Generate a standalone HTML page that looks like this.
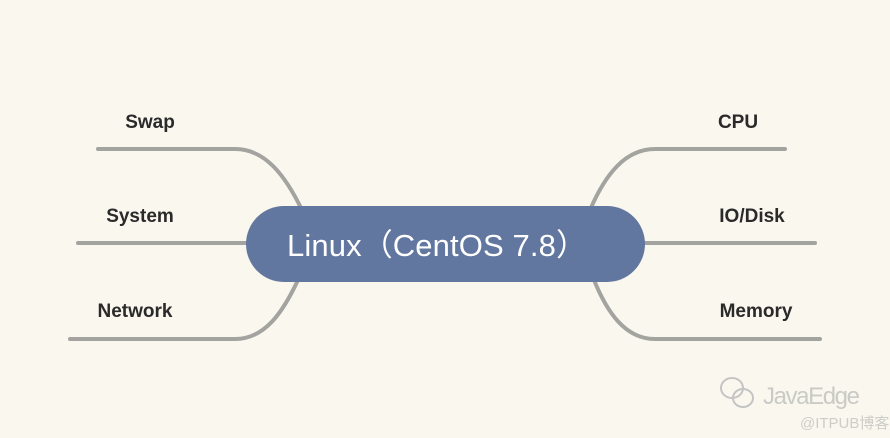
<!DOCTYPE html>
<html><head><meta charset="utf-8"><style>
body{margin:0;width:890px;height:438px;background:#f9f7ee;overflow:hidden;position:relative;font-family:"Liberation Sans","Noto Sans CJK SC",sans-serif}
.t{position:absolute;font-size:19px;color:#2a2a2a;transform:translate(-50%,-50%);white-space:nowrap;font-weight:bold}
</style></head><body>
<svg width="890" height="438" style="position:absolute;left:0;top:0">
<g fill="none" stroke="#a3a3a0" stroke-linecap="round">
<path d="M98 149 H235 C265 149 285 175 302 210" stroke-width="4"/>
<path d="M78 243 H250" stroke-width="4"/>
<path d="M70 339 H235 C265 339 283 312 298 280" stroke-width="4"/>
<path d="M785 149 H655 C625 149 605 175 590 210" stroke-width="4"/>
<path d="M815 243 H640" stroke-width="4"/>
<path d="M820 339 H655 C625 339 607 312 594 280" stroke-width="4"/>
</g>
<rect x="246" y="206" width="399" height="76" rx="38" fill="#62779f"/>
<text x="437" y="256" text-anchor="middle" fill="#fff" font-size="31" textLength="300" font-family="Liberation Sans, Noto Sans CJK SC, sans-serif">Linux（CentOS 7.8）</text>
<g fill="none" stroke="#c4c4c4" stroke-width="2">
<ellipse cx="732" cy="388" rx="11" ry="10"/>
<ellipse cx="743" cy="398" rx="10" ry="9"/>
</g>
<text x="763" y="404" fill="#cacac6" font-size="24" textLength="97" font-family="Liberation Sans, sans-serif">JavaEdge</text>
<text x="800" y="428" fill="#cdcdc9" font-size="15" font-family="Liberation Sans, Noto Sans CJK SC, sans-serif">@ITPUB博客</text>
</svg>
<div class="t" style="left:150px;top:123px">Swap</div>
<div class="t" style="left:140px;top:217px">System</div>
<div class="t" style="left:135px;top:312px">Network</div>
<div class="t" style="left:738px;top:123px">CPU</div>
<div class="t" style="left:752px;top:217px">IO/Disk</div>
<div class="t" style="left:756px;top:312px">Memory</div>
</body></html>
